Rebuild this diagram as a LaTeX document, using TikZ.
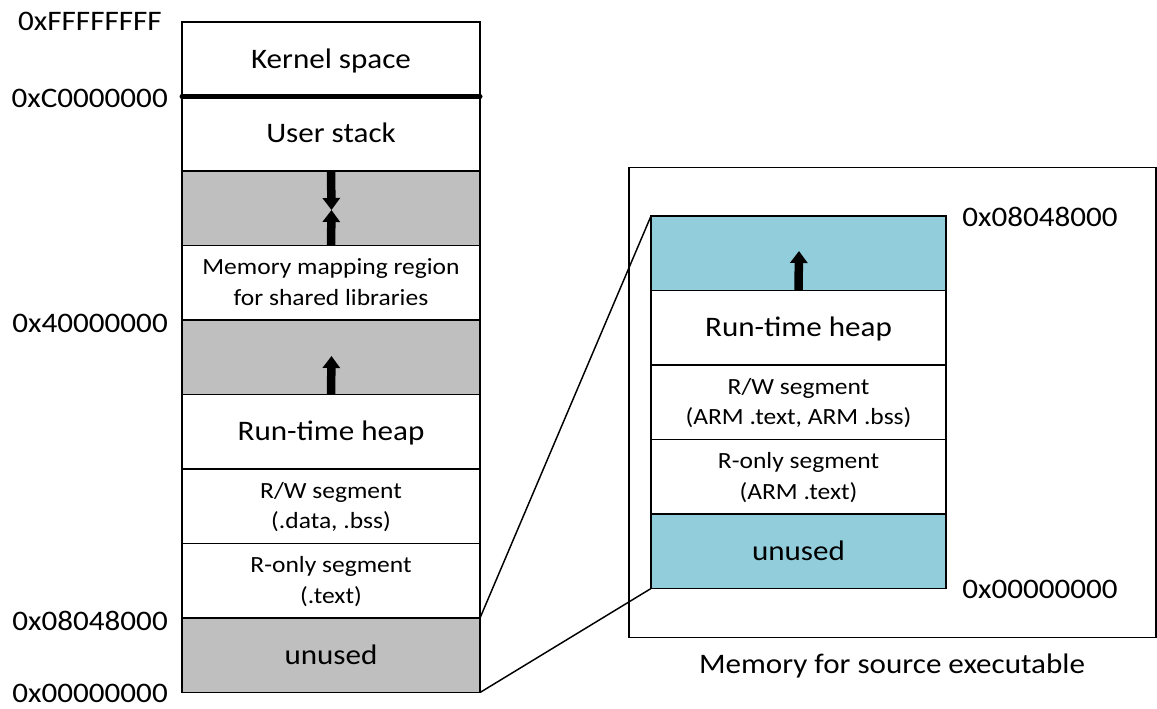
\documentclass[tikz,border=0pt]{standalone}
\usepackage{fontspec}
\setmainfont{Carlito}[FakeStretch=1.1]
\usetikzlibrary{arrows.meta}
\definecolor{gapgray}{HTML}{BFBFBF}
\definecolor{aqua}{HTML}{92CDDC}
\tikzset{
  cell/.style={draw=black, line width=1.8pt*0.75, rectangle, anchor=north west,
    inner sep=0pt, outer sep=0pt, align=center,
    minimum height=74.5*0.75pt},
  lcell/.style={cell, minimum width=298*0.75pt},
  rcell/.style={cell, minimum width=295*0.75pt},
  big/.style={font=\fontsize{21.2}{25}\selectfont, text height=15.5pt, text depth=2pt},
  small/.style={font=\fontsize{17.4}{23}\selectfont, text depth=1pt},
  addr/.style={font=\fontsize{21.2}{25}\selectfont, inner sep=0pt},
  growarrow/.style={line width=8.5*0.75pt,
    -{Triangle[width=17*0.75pt, length=12*0.75pt]}},
  zoomline/.style={draw=black, line width=1.1pt},
}
\begin{document}
\begin{tikzpicture}[x=0.75pt, y=-0.75pt]
\useasboundingbox (0,0) rectangle (1157,708);

% ---- full address space ----
\node[lcell, big] (kern) at (182,22) {Kernel space};
\node[lcell, big] (ustack) at (182,96.5) {User stack};
\node[lcell, fill=gapgray] (gapA) at (182,171) {};
\node[lcell, small] (mmap) at (182,245.5) {Memory mapping region\\for shared libraries};
\node[lcell, fill=gapgray] (gapB) at (182,320) {};
\node[lcell, big] (heapL) at (182,394.5) {Run-time heap};
\node[lcell, small] (rwL) at (182,469) {R/W segment\\(.data, .bss)};
\node[lcell, small] (roL) at (182,543.5) {R-only segment\\(.text)};
\node[lcell, big, fill=gapgray] (unusedL) at (182,618) {unused};

% kernel / user boundary
\draw[line width=5*0.75pt, line cap=round] (ustack.north west) -- (ustack.north east);

% stack and mmap growth arrows
\coordinate (meetA) at (331.5,210);
\draw[growarrow] (gapA.north) -- (meetA);
\draw[growarrow] (gapA.south) -- (meetA);
\coordinate (tipB) at (331.5,356);
\draw[growarrow] (gapB.south) -- (tipB);

% addresses on the left
\node[addr, anchor=east] (aF) at (162,21) {0xFFFFFFFF};
\node[addr, anchor=east] (aC) at (168,98) {0xC0000000};
\node[addr, anchor=east] (a4) at (168,323) {0x40000000};
\node[addr, anchor=east] (a08L) at (168,621) {0x08048000};
\node[addr, anchor=east] (a0L) at (168,693) {0x00000000};

% ---- memory of the source executable ----
\node[draw=black, line width=1.8pt*0.75, rectangle, anchor=north west,
  minimum width=527*0.75pt, minimum height=470*0.75pt, inner sep=0pt]
  (frame) at (628,166.5) {};
\node[rcell, fill=aqua] (tealTop) at (651,216) {};
\node[rcell, big] (heapR) at (651,290.5) {Run-time heap};
\node[rcell, small] (rwR) at (651,365) {R/W segment\\(ARM .text, ARM .bss)};
\node[rcell, small] (roR) at (651,439.5) {R-only segment\\(ARM .text)};
\node[rcell, big, fill=aqua] (unusedR) at (651,514) {unused};

\coordinate (tipR) at (799,251);
\draw[growarrow] (tealTop.south) -- (tipR);

\node[addr, anchor=west] (a08R) at (962,217) {0x08048000};
\node[addr, anchor=west] (a0R) at (962,589) {0x00000000};
\node[addr] (caption) at (892,666) {Memory for source executable};

% zoom lines
\draw[zoomline] (unusedL.north east) -- (tealTop.north west);
\draw[zoomline] (unusedL.south east) -- (unusedR.south west);
\end{tikzpicture}
\end{document}
